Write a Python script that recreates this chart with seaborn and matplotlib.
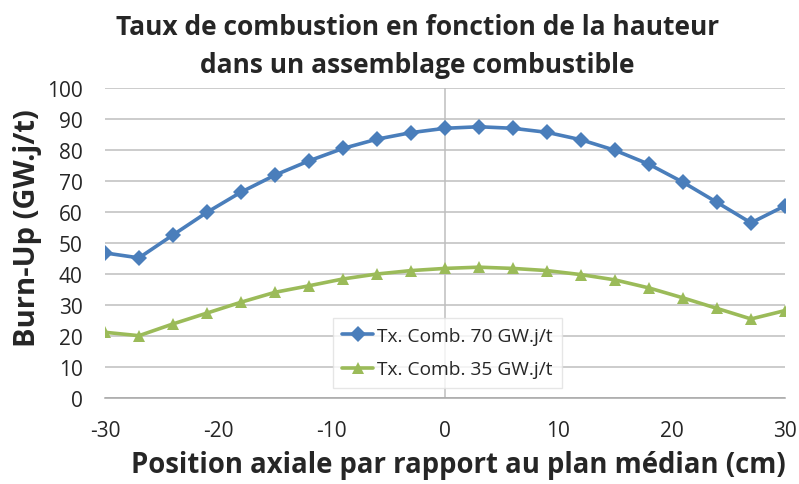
import matplotlib
matplotlib.use("Agg")
import matplotlib.pyplot as plt
import seaborn as sns
import pandas as pd

positions = [-30, -27, -24, -21, -18, -15, -12, -9, -6, -3, 0,
             3, 6, 9, 12, 15, 18, 21, 24, 27, 30]
burnup_70 = [46.8, 45.2, 52.6, 59.9, 66.4, 71.9, 76.5, 80.5, 83.5, 85.6, 87.0,
             87.5, 87.0, 85.7, 83.3, 79.9, 75.4, 69.6, 63.1, 56.5, 62.0]
burnup_35 = [21.2, 20.1, 23.9, 27.4, 30.9, 34.1, 36.2, 38.4, 40.0, 41.1, 41.8,
             42.2, 41.8, 41.1, 39.8, 38.1, 35.5, 32.3, 28.9, 25.5, 28.2]
series_names = ["Tx. Comb. 70 GW.j/t", "Tx. Comb. 35 GW.j/t"]
x_ticks = [-30, -20, -10, 0, 10, 20, 30]
y_ticks = list(range(0, 101, 10))

df = pd.concat([
    pd.DataFrame({"pos": positions, "bu": burnup_70, "serie": series_names[0]}),
    pd.DataFrame({"pos": positions, "bu": burnup_35, "serie": series_names[1]}),
])

sns.set_style("white")
plt.rcParams["font.family"] = ["Open Sans", "DejaVu Sans"]
plt.rcParams["axes.unicode_minus"] = False

fig = plt.figure(figsize=(7.99, 4.85), dpi=100)
ax = fig.add_axes([105 / 799, 1 - 399 / 485, 680 / 799, 310 / 485])

palette = {series_names[0]: "#4A7EBB", series_names[1]: "#9BBB59"}
markers = {series_names[0]: "D", series_names[1]: "^"}
sns.lineplot(data=df, x="pos", y="bu", hue="serie", style="serie",
             palette=palette, markers=markers, dashes=False,
             linewidth=2.6, markersize=8, markeredgewidth=0, ax=ax)

ax.set_xlim(-30, 30)
ax.set_ylim(0, 100)
ax.set_xticks(x_ticks)
ax.set_yticks(y_ticks)
ax.yaxis.grid(True, color="#BEBEBE", linewidth=1.1)
ax.set_axisbelow(True)
ax.axvline(0, color="#BEBEBE", linewidth=1.1, zorder=0)

for side in ["top", "right", "left"]:
    ax.spines[side].set_visible(False)
ax.spines["bottom"].set_color("#A6A6A6")
ax.spines["bottom"].set_linewidth(1.1)
ax.tick_params(axis="x", direction="out", length=6, width=1, color="#A6A6A6",
               labelsize=15, pad=10)
ax.tick_params(axis="y", length=0, labelsize=15, pad=16)

ax.set_xlabel("Position axiale par rapport au plan médian (cm)",
              fontsize=19.8, fontweight="bold")
ax.xaxis.set_label_coords(0.519, -0.168)
ax.set_ylabel("Burn-Up (GW.j/t)", fontsize=21, fontweight="bold")
ax.yaxis.set_label_coords(-0.092, 0.55)

fig.text(0.522, 0.904, "Taux de combustion en fonction de la hauteur\ndans un assemblage combustible",
         ha="center", va="center", fontsize=19, fontweight="bold", linespacing=1.5)

leg = ax.legend(loc="lower left", bbox_to_anchor=(0.335, 0.032), borderaxespad=0,
                fontsize=13.8, frameon=True, fancybox=False, handlelength=1.6,
                handletextpad=0.2, borderpad=0.5, labelspacing=0.8)
leg.get_frame().set_edgecolor("#E0E0E0")
leg.get_frame().set_linewidth(1)

fig.savefig("out.png", dpi=100)
